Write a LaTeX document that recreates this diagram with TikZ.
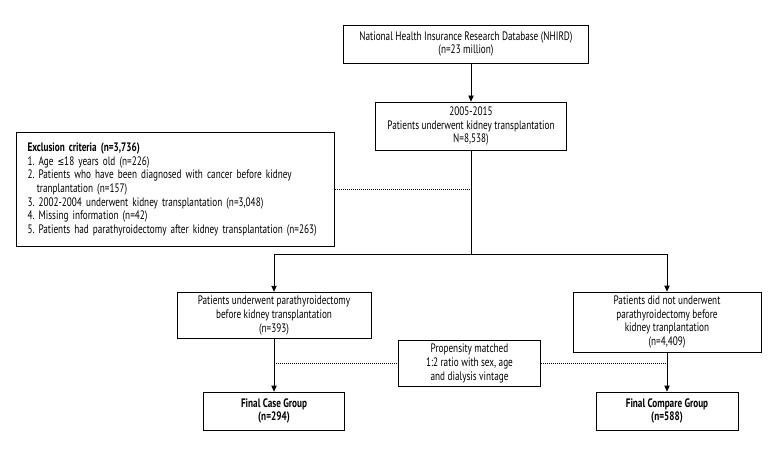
\documentclass[tikz,border=0pt]{standalone}
\usepackage{fontspec}
\setmainfont{PT Sans}[FakeStretch=0.75]
\newfontfamily\symfont{DejaVu Sans}[FakeStretch=0.75]
\frenchspacing
\usepackage{tikz}
\usetikzlibrary{positioning, arrows.meta}

\begin{document}
\begin{tikzpicture}[x=0.75pt, y=-0.75pt, >={Triangle[length=4.5pt, width=4pt]},
    box/.style={draw, line width=0.6pt, align=center, inner sep=2pt, font=\fontsize{9.2}{10.3}\selectfont},
    arrow/.style={->, line width=0.6pt},
    link/.style={line width=0.6pt},
    dots/.style={densely dotted, line width=0.5pt}]
    \useasboundingbox (0,0) rectangle (780,456);
    \node[box, minimum width=184pt, minimum height=28.5pt] (nhird) at (466,44) {National Health Insurance Research Database (NHIRD)\\(n=23 million)};
    \node[box, minimum width=143pt, minimum height=36pt] (ktx) at (471,126) {2005-2015\\Patients underwent kidney transplantation\\N=8,538)};
    \node[box, minimum width=238pt, minimum height=85pt, text width=222pt, align=left, inner xsep=8pt] (excl) at (175.5,189.5) {\textbf{Exclusion criteria (n=3,736)}\\1. Age {\symfont\fontsize{8}{10}\selectfont ≤}18 years old (n=226)\\2. Patients who have been diagnosed with cancer before kidney\\\hspace*{7pt}tranplantation (n=157)\\3. 2002-2004 underwent kidney transplantation (n=3,048)\\4. Missing information (n=42)\\5. Patients had parathyroidectomy after kidney transplantation (n=263)};
    \node[box, minimum width=145.5pt, minimum height=35pt] (ptx) at (274,315.5) {Patients underwent parathyroidectomy\\before kidney transplantation\\(n=393)};
    \node[box, minimum width=141pt, minimum height=45pt] (noptx) at (667,322) {Patients did not underwent\\parathyroidectomy before\\kidney tranplantation\\(n=4,409)};
    \node[box, minimum width=106pt, minimum height=35pt] (match) at (469.5,363.5) {Propensity matched\\1:2 ratio with sex, age\\and dialysis vintage};
    \node[box, minimum width=106pt, minimum height=28.5pt, font=\fontsize{9.2}{10.3}\selectfont\bfseries] (case) at (274,411) {Final Case Group\\(n=294)};
    \node[box, minimum width=106.5pt, minimum height=28.5pt, font=\fontsize{9.2}{10.3}\selectfont\bfseries] (compare) at (667,411) {Final Compare Group\\(n=588)};
    \coordinate (split) at (471,254);
    \draw[arrow] (nhird.south -| ktx.north) -- (ktx.north);
    \draw[link] (ktx.south) -- (split);
    \draw[arrow] (split) -| (ptx.north);
    \draw[arrow] (split) -| (noptx.north);
    \draw[arrow] (ptx) -- (case);
    \draw[arrow] (noptx) -- (compare);
    \draw[dots] (excl.east) -- (excl.east -| ktx.south);
    \draw[dots] (match.west) -- (match.west -| ptx.south);
    \draw[dots] (match.east) -- (match.east -| noptx.south);
\end{tikzpicture}
\end{document}
